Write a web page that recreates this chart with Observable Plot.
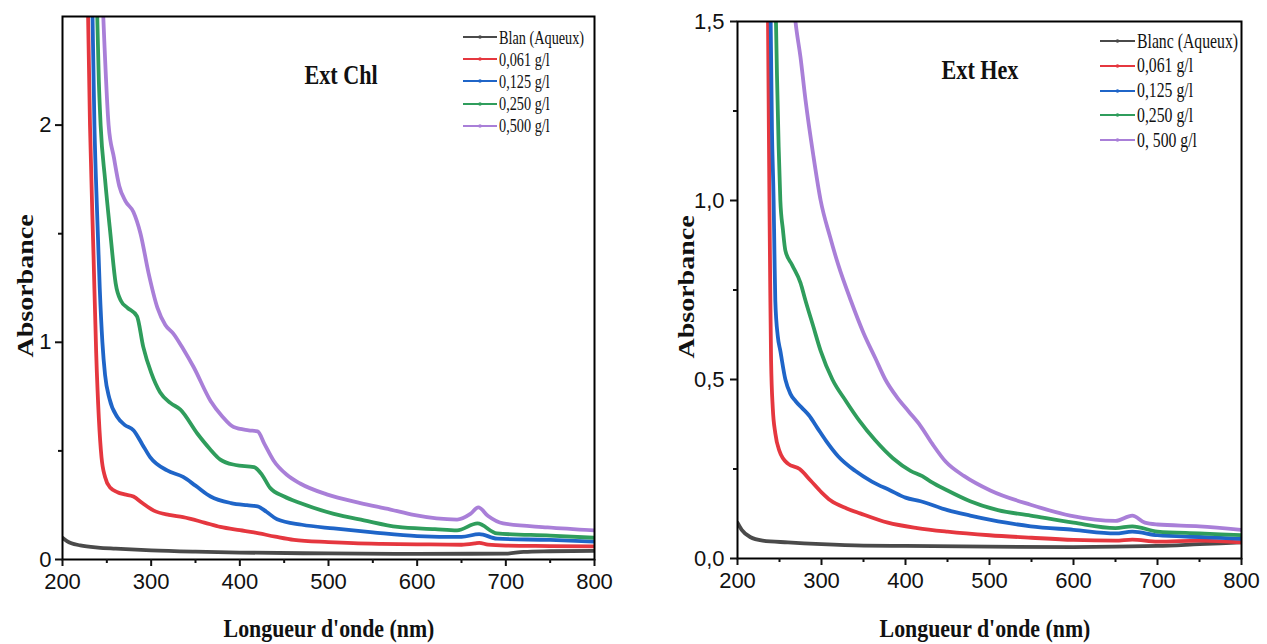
<!DOCTYPE html>
<html><head><meta charset="utf-8">
<script src="https://cdn.jsdelivr.net/npm/d3@7"></script>
<script src="https://cdn.jsdelivr.net/npm/@observablehq/plot@0.6"></script>
<style>
body{margin:0;background:#fff;}
#wrap{position:relative;width:1267px;height:644px;overflow:hidden;background:#fff;}
.panel{position:absolute;top:0;}
.lbl{position:absolute;font-family:"Liberation Serif","Times New Roman",serif;font-weight:bold;white-space:nowrap;color:#111;line-height:1;}
.legrow{position:absolute;display:flex;align-items:center;white-space:nowrap;}
.legtxt{font-family:"Liberation Serif","Times New Roman",serif;color:#111;line-height:1;transform-origin:left center;}
</style></head><body><div id="wrap"></div>
<script>
// ---------- data: Ext Chl ----------
const chlNames = ["Blan (Aqueux)", "0,061 g/l", "0,125 g/l", "0,250 g/l", "0,500 g/l"];
const chlWlBlank = [200,205,210,220,240,260,300,350,400,500,600,700,720,750,800];
const chlAbBlank = [0.10,0.085,0.075,0.065,0.055,0.05,0.042,0.036,0.032,0.028,0.026,0.027,0.035,0.038,0.04];
const chlWl061 = [228,231,235,238,241,244,248,254,262,270,280,290,303,320,336,360,378,400,416,440,461,500,528,560,600,650,665,670,680,700,750,800];
const chlAb061 = [2.7,2.0,1.4,0.95,0.65,0.47,0.38,0.33,0.31,0.3,0.29,0.26,0.225,0.205,0.195,0.17,0.15,0.135,0.125,0.105,0.09,0.08,0.075,0.072,0.07,0.068,0.074,0.077,0.068,0.064,0.062,0.06];
const chlWl125 = [233,236,239,242,245,248,253,262,270,280,290,299,318,336,350,367,390,408,420,430,442,470,506,550,600,650,670,690,750,800];
const chlAb125 = [2.7,2.0,1.6,1.25,1.0,0.85,0.74,0.655,0.62,0.595,0.53,0.47,0.41,0.38,0.34,0.29,0.26,0.25,0.245,0.22,0.185,0.16,0.143,0.125,0.108,0.104,0.117,0.096,0.09,0.082];
const chlWl250 = [238,241,243,248,254,260,266,273,284,291,300,310,322,333,352,366,378,395,416,425,434,450,468,506,540,578,620,645,668,690,750,800];
const chlAb250 = [2.7,2.2,2.0,1.75,1.5,1.27,1.19,1.16,1.12,0.98,0.86,0.77,0.72,0.69,0.58,0.51,0.46,0.435,0.425,0.39,0.33,0.29,0.26,0.21,0.18,0.15,0.14,0.134,0.166,0.12,0.11,0.10];
const chlWl500 = [244,247,252,258,264,271,280,288,297,307,316,325,336,348,367,380,393,410,420,428,438,453,468,498,536,570,596,645,660,669,680,697,747,800];
const chlAb500 = [2.7,2.4,2.0,1.85,1.72,1.65,1.6,1.5,1.32,1.16,1.08,1.04,0.97,0.885,0.73,0.66,0.61,0.595,0.59,0.53,0.456,0.39,0.35,0.30,0.26,0.23,0.205,0.184,0.21,0.24,0.2,0.166,0.148,0.134];

// ---------- data: Ext Hex ----------
const hexNames = ["Blanc (Aqueux)", "0,061 g/l", "0,125 g/l", "0,250 g/l", "0, 500 g/l"];
const hexWlBlank = [200,205,215,230,260,300,350,400,500,600,700,750,800];
const hexAbBlank = [0.10,0.08,0.06,0.05,0.045,0.04,0.036,0.035,0.033,0.032,0.035,0.04,0.045];
const hexWl061 = [236,237,238,239,240,242,245,250,260,274,287,300,311,330,346,379,414,450,500,550,600,650,670,700,750,800];
const hexAb061 = [1.6,1.3,1.0,0.75,0.55,0.42,0.35,0.3,0.265,0.25,0.218,0.185,0.162,0.14,0.126,0.10,0.085,0.075,0.065,0.058,0.052,0.05,0.053,0.047,0.05,0.045];
const hexWl125 = [239,241,243,244,245,248,251,257,263,269,277,285,295,305,320,340,360,382,400,418,450,477,520,549,600,650,670,700,750,800];
const hexAb125 = [1.6,1.2,1.0,0.85,0.72,0.62,0.58,0.50,0.46,0.44,0.42,0.40,0.365,0.33,0.285,0.245,0.215,0.19,0.17,0.16,0.135,0.12,0.10,0.09,0.08,0.07,0.075,0.065,0.06,0.055];
const hexWl250 = [245,247,249,251,254,257,265,275,281,290,299,313,329,345,364,385,406,420,430,450,477,510,549,600,650,670,700,750,800];
const hexAb250 = [1.6,1.35,1.15,1.0,0.92,0.86,0.82,0.77,0.72,0.65,0.58,0.5,0.44,0.385,0.33,0.28,0.245,0.23,0.215,0.19,0.16,0.135,0.12,0.1,0.085,0.09,0.075,0.07,0.065];
const hexWl500 = [265,269,275,281,290,299,310,320,335,350,364,376,390,404,418,432,448,470,501,549,596,650,670,685,700,750,800];
const hexAb500 = [1.6,1.5,1.4,1.28,1.13,1.0,0.9,0.82,0.72,0.63,0.56,0.5,0.45,0.41,0.37,0.32,0.27,0.23,0.19,0.15,0.12,0.105,0.12,0.1,0.095,0.09,0.08];

// ticks
const xTicks = [200,300,400,500,600,700,800];
const xMinor = [250,350,450,550,650,750];
const chlYTicks = [0,1,2];
const chlYMinor = [0.5,1.5];
const hexYTicks = [0,0.5,1.0,1.5];
const hexYMinor = [0.25,0.75,1.25];

const colors = ["#4a4a4a","#e5373f","#1f65c8","#2f9d5c","#a97fd8"];

function rows(names, wls, abs) {
  const out = [];
  names.forEach((n, i) => wls[i].forEach((w, j) => out.push({w, a: abs[i][j], s: n})));
  return out;
}
const chlRows = rows(chlNames, [chlWlBlank,chlWl061,chlWl125,chlWl250,chlWl500], [chlAbBlank,chlAb061,chlAb125,chlAb250,chlAb500]);
const hexRows = rows(hexNames, [hexWlBlank,hexWl061,hexWl125,hexWl250,hexWl500], [hexAbBlank,hexAb061,hexAb125,hexAb250,hexAb500]);

function panel(cfg) {
  return Plot.plot({
    width: cfg.width, height: 644,
    marginLeft: cfg.ml, marginRight: cfg.mr, marginTop: cfg.mt, marginBottom: cfg.mb,
    x: {domain: [200, 800]},
    y: {domain: cfg.ydomain},
    color: {domain: cfg.names, range: colors},
    style: {fontFamily: "'Liberation Sans', Arial, sans-serif", fontSize: "22px", color: "#111", background: "white", overflow: "visible"},
    marks: [
      Plot.line(cfg.data, {x: "w", y: "a", z: "s", stroke: "s", curve: "monotone-x", strokeWidth: 3.8, clip: true}),
      Plot.frame({stroke: "#000", strokeWidth: 2}),
      Plot.axisX({ticks: xTicks, tickSize: 7, tickPadding: 7, tickFormat: d => String(d), label: null, strokeWidth: 2}),
      Plot.axisX({ticks: xMinor, tickSize: 4, text: null, label: null, strokeWidth: 2}),
      Plot.axisY({ticks: cfg.yticks, tickSize: 7, tickPadding: cfg.ypad, tickFormat: cfg.yfmt, label: null, strokeWidth: 2}),
      Plot.axisY({ticks: cfg.yminor, tickSize: 4, text: null, label: null, strokeWidth: 2})
    ]
  });
}

function squeeze(svg, k) {
  d3.select(svg).selectAll("g[aria-label$='tick label'] text").each(function() {
    if (this.hasAttribute("x") || this.hasAttribute("y")) return;
    const t = this.getAttribute("transform") || "";
    this.setAttribute("transform", t + ` scale(${k},1)`);
  });
}

const wrap = document.getElementById("wrap");

const p1 = panel({width: 633, ml: 62, mr: 39, mt: 16, mb: 85, ydomain: [0, 2.5], names: chlNames, data: chlRows,
  yticks: chlYTicks, yminor: chlYMinor, ypad: 4, yfmt: d => String(d)});
p1.classList.add("panel"); p1.style.left = "0px";
squeeze(p1, 0.78);
wrap.appendChild(p1);

const p2 = panel({width: 634, ml: 104, mr: 26, mt: 21, mb: 86, ydomain: [0, 1.5], names: hexNames, data: hexRows,
  yticks: hexYTicks, yminor: hexYMinor, ypad: 6, yfmt: d => d.toFixed(1).replace(".", ",")});
p2.classList.add("panel"); p2.style.left = "633px";
squeeze(p2, 0.78);
wrap.appendChild(p2);

// text overlays
function label(text, x, y, size, rot, sx) {
  const d = document.createElement("div");
  d.className = "lbl";
  d.textContent = text;
  d.style.left = x + "px"; d.style.top = y + "px"; d.style.fontSize = size + "px";
  d.style.transform = rot ? `translate(-50%,-50%) rotate(-90deg) scaleY(${sx})` : `translate(-50%,-50%) scaleX(${sx})`;
  wrap.appendChild(d);
}
label("Longueur d'onde (nm)", 329, 629, 26, false, 0.84);
label("Longueur d'onde (nm)", 985, 629, 26, false, 0.84);
label("Absorbance", 25, 286, 28, true, 0.84);
label("Absorbance", 686, 287, 28, true, 0.84);
label("Ext Chl", 341, 75, 27, false, 0.82);
label("Ext Hex", 980, 70, 27, false, 0.82);

function legend(names, x0, y0, dy, lineW, size, sx) {
  names.forEach((n, i) => {
    const r = document.createElement("div");
    r.className = "legrow";
    r.style.left = x0 + "px";
    r.style.top = (y0 + i * dy - 10) + "px";
    r.style.height = "20px";
    r.innerHTML = `<svg width="${lineW}" height="20" style="flex:none"><line x1="0" x2="${lineW}" y1="10" y2="10" stroke="${colors[i]}" stroke-width="2.2"/><circle cx="${lineW/2}" cy="10" r="1.8" fill="${colors[i]}"/></svg>` +
      `<span class="legtxt" style="font-size:${size}px;margin-left:2px;transform:scaleX(${sx})">${n}</span>`;
    wrap.appendChild(r);
  });
}
legend(chlNames, 463, 37, 22.2, 34, 19, 0.75);
legend(hexNames, 1100, 41, 24.8, 35, 21, 0.75);
</script>
</body></html>
